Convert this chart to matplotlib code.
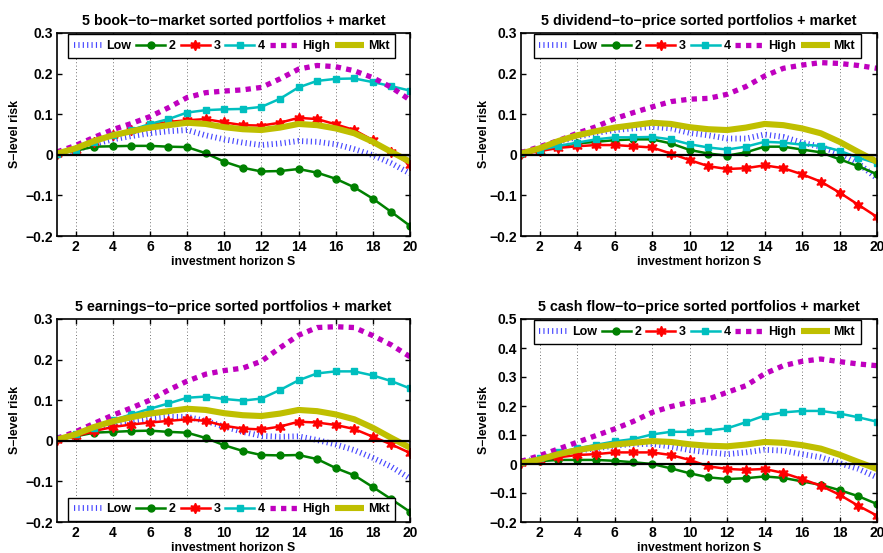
import numpy as np
import matplotlib
matplotlib.use("Agg")
import matplotlib.pyplot as plt

plt.rcParams["font.family"] = ["Liberation Sans", "DejaVu Sans"]
plt.rcParams["font.weight"] = "bold"

horizon = list(range(1, 21))
series_names = ["Low", "2", "3", "4", "High", "Mkt"]

mkt = [0.003, 0.016, 0.034, 0.048, 0.058, 0.067, 0.073, 0.079, 0.076, 0.068,
       0.063, 0.061, 0.067, 0.076, 0.073, 0.065, 0.053, 0.032, 0.007, -0.017]

# book-to-market
bm_low = [0.003, 0.012, 0.026, 0.038, 0.046, 0.053, 0.058, 0.061, 0.048, 0.038,
          0.030, 0.024, 0.028, 0.034, 0.032, 0.026, 0.014, -0.001, -0.021, -0.046]
bm_2 = [0.003, 0.010, 0.020, 0.021, 0.022, 0.022, 0.020, 0.019, 0.004, -0.017,
        -0.032, -0.041, -0.040, -0.035, -0.044, -0.059, -0.080, -0.108, -0.141, -0.175]
bm_3 = [0.003, 0.012, 0.032, 0.048, 0.061, 0.073, 0.081, 0.085, 0.088, 0.080,
        0.073, 0.072, 0.079, 0.091, 0.088, 0.075, 0.061, 0.036, 0.007, -0.024]
bm_4 = [0.003, 0.013, 0.032, 0.050, 0.061, 0.076, 0.088, 0.104, 0.110, 0.112,
        0.113, 0.118, 0.138, 0.166, 0.182, 0.187, 0.188, 0.179, 0.169, 0.158]
bm_high = [0.007, 0.023, 0.043, 0.062, 0.077, 0.094, 0.116, 0.141, 0.153, 0.157,
           0.160, 0.166, 0.187, 0.211, 0.220, 0.217, 0.207, 0.190, 0.166, 0.135]

# dividend-to-price
dp_low = [0.003, 0.014, 0.032, 0.044, 0.054, 0.061, 0.065, 0.069, 0.065, 0.054,
          0.048, 0.040, 0.040, 0.050, 0.044, 0.030, 0.020, 0.003, -0.021, -0.058]
dp_2 = [0.003, 0.010, 0.021, 0.028, 0.032, 0.036, 0.038, 0.038, 0.028, 0.012,
        0.003, -0.002, 0.006, 0.020, 0.020, 0.013, 0.006, -0.011, -0.028, -0.048]
dp_3 = [0.002, 0.009, 0.017, 0.021, 0.024, 0.024, 0.021, 0.018, 0.003, -0.013,
        -0.028, -0.035, -0.033, -0.026, -0.033, -0.048, -0.066, -0.093, -0.123, -0.153]
dp_4 = [0.005, 0.012, 0.022, 0.030, 0.038, 0.043, 0.043, 0.044, 0.038, 0.026,
        0.018, 0.013, 0.020, 0.032, 0.030, 0.025, 0.022, 0.010, -0.007, -0.021]
dp_high = [0.005, 0.020, 0.035, 0.053, 0.069, 0.089, 0.104, 0.118, 0.131, 0.137,
           0.139, 0.149, 0.168, 0.194, 0.213, 0.221, 0.227, 0.225, 0.220, 0.213]

# earnings-to-price
ep_low = [0.004, 0.014, 0.030, 0.043, 0.049, 0.055, 0.059, 0.059, 0.049, 0.035,
          0.022, 0.012, 0.010, 0.011, 0.002, -0.009, -0.023, -0.042, -0.064, -0.093]
ep_2 = [0.004, 0.011, 0.020, 0.022, 0.024, 0.025, 0.022, 0.020, 0.007, -0.011,
        -0.025, -0.035, -0.036, -0.035, -0.045, -0.067, -0.085, -0.114, -0.144, -0.175]
ep_3 = [0.002, 0.011, 0.024, 0.034, 0.040, 0.045, 0.049, 0.053, 0.049, 0.037,
        0.030, 0.028, 0.035, 0.047, 0.045, 0.039, 0.029, 0.010, -0.009, -0.030]
ep_4 = [0.006, 0.016, 0.032, 0.051, 0.065, 0.079, 0.092, 0.106, 0.109, 0.103,
        0.099, 0.104, 0.125, 0.149, 0.166, 0.171, 0.171, 0.161, 0.147, 0.129]
ep_high = [0.006, 0.022, 0.043, 0.063, 0.081, 0.100, 0.125, 0.147, 0.164, 0.173,
           0.179, 0.196, 0.229, 0.260, 0.279, 0.281, 0.279, 0.259, 0.236, 0.207]

# cash flow-to-price
cf_low = [0.006, 0.020, 0.034, 0.046, 0.054, 0.063, 0.069, 0.069, 0.060, 0.048,
          0.040, 0.034, 0.040, 0.049, 0.046, 0.034, 0.023, 0.003, -0.017, -0.046]
cf_2 = [0.008, 0.010, 0.014, 0.014, 0.014, 0.011, 0.006, 0.000, -0.015, -0.032,
        -0.046, -0.052, -0.049, -0.043, -0.048, -0.060, -0.072, -0.090, -0.111, -0.138]
cf_3 = [0.003, 0.015, 0.023, 0.031, 0.034, 0.040, 0.040, 0.040, 0.031, 0.014,
        -0.008, -0.017, -0.020, -0.017, -0.031, -0.052, -0.075, -0.106, -0.144, -0.178]
cf_4 = [0.008, 0.020, 0.040, 0.054, 0.066, 0.078, 0.086, 0.102, 0.111, 0.111,
        0.115, 0.123, 0.144, 0.167, 0.178, 0.183, 0.183, 0.174, 0.161, 0.146]
cf_high = [0.009, 0.029, 0.052, 0.075, 0.098, 0.121, 0.147, 0.178, 0.198, 0.213,
           0.224, 0.247, 0.270, 0.311, 0.339, 0.354, 0.362, 0.353, 0.345, 0.339]

titles = ["5 book\u2212to\u2212market sorted portfolios + market",
          "5 dividend\u2212to\u2212price sorted portfolios + market",
          "5 earnings\u2212to\u2212price sorted portfolios + market",
          "5 cash flow\u2212to\u2212price sorted portfolios + market"]
panel_data = [
    [bm_low, bm_2, bm_3, bm_4, bm_high, mkt],
    [dp_low, dp_2, dp_3, dp_4, dp_high, mkt],
    [ep_low, ep_2, ep_3, ep_4, ep_high, mkt],
    [cf_low, cf_2, cf_3, cf_4, cf_high, mkt],
]
y_ranges = [(-0.2, 0.3), (-0.2, 0.3), (-0.2, 0.3), (-0.2, 0.5)]
legend_at_bottom = [False, False, True, False]

styles = [
    dict(color="#4646ff", lw=4.2, linestyle=(0, (0.2, 0.55)), dash_capstyle="butt"),
    dict(color="#008000", lw=1.8, marker="o", ms=5.0),
    dict(color="#ff0000", lw=1.8, marker=(6, 1, 0), ms=7.5),
    dict(color="#00bfbf", lw=1.8, marker="s", ms=4.5),
    dict(color="#bf00bf", lw=3.8, linestyle=(0, (1.0, 1.0)), dash_capstyle="butt"),
    dict(color="#bfbf00", lw=4.4, solid_capstyle="butt"),
]

W, H = 883, 553
fig = plt.figure(figsize=(W / 100, H / 100), dpi=100)
rects = [
    (57, 33, 410, 236),
    (521, 33, 877, 236),
    (57, 319, 410, 522),
    (521, 319, 877, 522),
]

for k, (x0, y0, x1, y1) in enumerate(rects):
    ax = fig.add_axes([x0 / W, 1 - y1 / H, (x1 - x0) / W, (y1 - y0) / H])
    handles = []
    for vals, name, st in zip(panel_data[k], series_names, styles):
        h, = ax.plot(horizon, vals, label=name, **st)
        handles.append(h)
    ax.axhline(0, color="black", lw=1.6, zorder=5)
    ax.set_xlim(1, 20)
    lo, hi = y_ranges[k]
    ax.set_ylim(lo, hi)
    ax.set_xticks(range(2, 21, 2))
    yt = np.round(np.arange(lo, hi + 1e-9, 0.1), 1)
    ax.set_yticks(yt)
    ax.set_yticklabels(["0" if v == 0 else f"{v:.1f}".replace("-", "\u2212") for v in yt])
    ax.xaxis.grid(True, linestyle=(0, (1, 3)), color="#444444", lw=0.6)
    ax.tick_params(direction="in", top=True, right=True, length=3.5, width=1,
                   labelsize=10, pad=3)
    for lab in ax.get_xticklabels() + ax.get_yticklabels():
        lab.set_fontweight("bold")
    for sp in ax.spines.values():
        sp.set_linewidth(1.2)
    ax.set_title(titles[k], fontsize=10.3, fontweight="bold", pad=6)
    ax.set_xlabel("investment horizon S", fontsize=8.8, fontweight="bold")
    ax.set_ylabel("S\u2212level risk", fontsize=8.8, fontweight="bold")
    ax.xaxis.set_label_coords(0.5, -0.1)
    ax.yaxis.set_label_coords(-0.102 if k % 2 == 0 else -0.087, 0.5)
    if legend_at_bottom[k]:
        loc, anchor = "lower center", (0.495, 0.0)
    else:
        loc, anchor = "upper center", (0.495, 1.0)
    leg = ax.legend(handles=handles, loc=loc, bbox_to_anchor=anchor, ncol=6,
                    frameon=True, fancybox=False, framealpha=1,
                    edgecolor="black", handlelength=2.3, handletextpad=0.3,
                    columnspacing=0.4, borderpad=0.45, borderaxespad=0.1,
                    numpoints=1, prop={"weight": "bold", "size": 9})
    leg.get_frame().set_linewidth(1.0)
    leg.set_zorder(10)

fig.savefig("out.png", dpi=100)
